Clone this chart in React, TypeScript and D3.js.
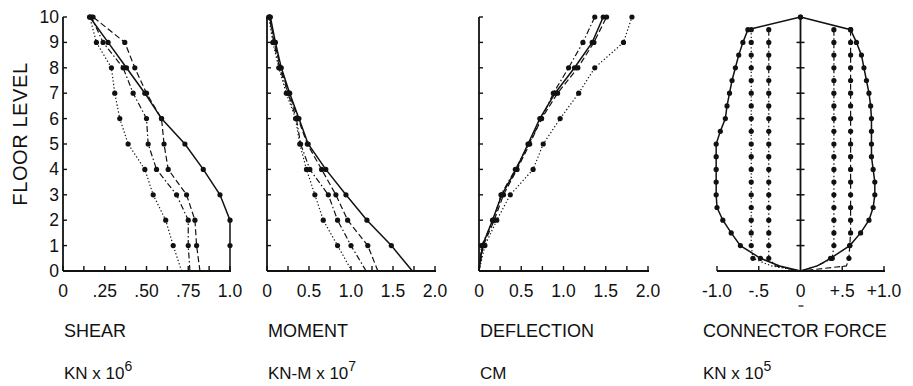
import React from 'react';
import * as d3 from 'd3';

// ---------- data ----------
const FLOORS = [0, 1, 2, 3, 4, 5, 6, 7, 8, 9, 10];
const FLOOR_TICKS = [0, 1, 2, 3, 4, 5, 6, 7, 8, 9, 10];

// SHEAR (KN x 10^6), floors 0..10
const SHEAR_SOLID = [1.0, 1.0, 1.0, 0.94, 0.84, 0.73, 0.59, 0.49, 0.38, 0.27, 0.16];
const SHEAR_DASHED = [0.82, 0.8, 0.79, 0.74, 0.63, 0.605, 0.59, 0.5, 0.43, 0.37, 0.18];
const SHEAR_DASHDOT = [0.76, 0.75, 0.75, 0.68, 0.56, 0.51, 0.5, 0.42, 0.36, 0.24, 0.17];
const SHEAR_DOTTED = [0.71, 0.66, 0.615, 0.54, 0.49, 0.39, 0.34, 0.31, 0.29, 0.2, 0.16];

// MOMENT (KN-M x 10^7)
const MOMENT_SOLID = [1.73, 1.48, 1.19, 0.94, 0.7, 0.49, 0.38, 0.27, 0.17, 0.1, 0.04];
const MOMENT_DASHED = [1.32, 1.2, 0.96, 0.82, 0.65, 0.48, 0.37, 0.26, 0.16, 0.09, 0.03];
const MOMENT_DASHDOT = [1.18, 1.0, 0.84, 0.73, 0.51, 0.4, 0.35, 0.25, 0.15, 0.08, 0.03];
const MOMENT_DOTTED = [1.01, 0.84, 0.67, 0.57, 0.47, 0.39, 0.34, 0.23, 0.14, 0.07, 0.02];

// DEFLECTION (CM)
const DEFL_SOLID = [0, 0.04, 0.16, 0.27, 0.44, 0.58, 0.72, 0.9, 1.13, 1.34, 1.47];
const DEFL_DASHED = [0, 0.05, 0.18, 0.29, 0.45, 0.6, 0.74, 0.93, 1.17, 1.36, 1.51];
const DEFL_DASHDOT = [0, 0.03, 0.17, 0.26, 0.43, 0.59, 0.74, 0.88, 1.06, 1.23, 1.37];
const DEFL_DOTTED = [0, 0.07, 0.21, 0.37, 0.64, 0.76, 0.96, 1.18, 1.37, 1.71, 1.81];

// CONNECTOR FORCE (KN x 10^5)
const CF_OUTER_FLOORS = [10, 9.5, 9, 8.5, 8, 7.5, 7, 6.5, 6, 5.5, 5, 4.5, 4, 3.5, 3, 2.5, 2, 1.5, 1, 0.5, 0.2, 0];
const CF_LEFT_OUTER = [0, -0.63, -0.69, -0.74, -0.78, -0.82, -0.85, -0.88, -0.9, -0.96, -1.01, -1.01, -1.01, -1.01, -1.01, -1.0, -0.93, -0.83, -0.72, -0.48, -0.25, 0];
const CF_RIGHT_OUTER = [0, 0.6, 0.67, 0.73, 0.76, 0.79, 0.82, 0.84, 0.85, 0.85, 0.85, 0.85, 0.87, 0.89, 0.89, 0.87, 0.82, 0.72, 0.59, 0.36, 0.2, 0];
const CF_INNER_FLOORS = [9.5, 9, 8.5, 8, 7.5, 7, 6.5, 6, 5.5, 5, 4.5, 4, 3.5, 3, 2.5, 2, 1.5, 1, 0.5, 0.2, 0];
const CF_LEFT_A = [-0.59, -0.59, -0.59, -0.59, -0.59, -0.59, -0.59, -0.59, -0.59, -0.59, -0.59, -0.59, -0.59, -0.59, -0.59, -0.59, -0.59, -0.59, -0.57, -0.35, 0];
const CF_LEFT_B = [-0.38, -0.38, -0.38, -0.38, -0.38, -0.38, -0.38, -0.38, -0.38, -0.38, -0.38, -0.38, -0.38, -0.38, -0.38, -0.38, -0.38, -0.38, -0.38, -0.3, 0];
const CF_RIGHT_A = [0.4, 0.4, 0.4, 0.4, 0.4, 0.4, 0.4, 0.4, 0.4, 0.4, 0.4, 0.4, 0.4, 0.4, 0.4, 0.4, 0.4, 0.4, 0.38, 0.2, 0];
const CF_RIGHT_B = [0.6, 0.6, 0.6, 0.6, 0.6, 0.6, 0.6, 0.6, 0.6, 0.6, 0.6, 0.6, 0.6, 0.6, 0.6, 0.6, 0.6, 0.59, 0.58, 0.55, 0];

const SHEAR_TICKS = [0, 0.125, 0.25, 0.375, 0.5, 0.625, 0.75, 0.875, 1.0];
const SHEAR_LABELS: [number, string][] = [[0, '0'], [0.25, '.25'], [0.5, '.50'], [0.75, '.75'], [1.0, '1.0']];
const TWO_TICKS = [0, 0.25, 0.5, 0.75, 1.0, 1.25, 1.5, 1.75, 2.0];
const TWO_LABELS: [number, string][] = [[0, '0'], [0.5, '0.5'], [1.0, '1.0'], [1.5, '1.5'], [2.0, '2.0']];
const CF_TICKS = [-1, -0.5, 0.5, 1];
const CF_LABELS: [number, string][] = [[-1, '-1.0'], [-0.5, '-.5'], [0, '0'], [0.5, '+.5'], [1, '+1.0']];

const TITLES = ['SHEAR', 'MOMENT', 'DEFLECTION', 'CONNECTOR FORCE'];
const UNITS: [string, string][] = [['KN x 10', '6'], ['KN-M x 10', '7'], ['CM', ''], ['KN x 10', '5']];

// ---------- styles ----------
const STYLES: Record<string, string | undefined> = {
  solid: undefined,
  dashed: '6,3',
  dashdot: '6,2.5,1.5,2.5',
  dotted: '1.3,2.2',
};
const FONT = "'Liberation Sans', Arial, sans-serif";

const W = 913;
const H = 386;
const yScale = d3.scaleLinear().domain([0, 10]).range([271, 17]);

type Series = { floors: number[]; values: number[]; style: string };

function Curve({ s, x }: { s: Series; x: d3.ScaleLinear<number, number> }) {
  const pts = s.floors.map((f, i) => [f, s.values[i]] as [number, number]);
  const line = d3.line<[number, number]>().x(d => x(d[1])).y(d => yScale(d[0]));
  const marks = pts.filter(p => p[0] > 0 && Math.abs(p[0] * 2 - Math.round(p[0] * 2)) < 1e-6);
  return (
    <g>
      <path d={line(pts) || ''} fill="none" stroke="#111" strokeWidth={s.style === 'solid' ? 1.5 : 1.2}
        strokeDasharray={STYLES[s.style]} />
      {marks.map((p, i) => (
        <circle key={i} cx={x(p[1])} cy={yScale(p[0])} r={2.6} fill="#111" />
      ))}
    </g>
  );
}

function XAxis({ x, ticks, labels, y0 }: { x: d3.ScaleLinear<number, number>; ticks: number[]; labels: [number, string][]; y0: number }) {
  const [d0, d1] = x.domain();
  return (
    <g>
      <line x1={x(d0)} x2={x(d1) + 1} y1={y0} y2={y0} stroke="#111" strokeWidth={1.8} />
      {ticks.map((t, i) => (
        <line key={i} x1={x(t)} x2={x(t)} y1={y0} y2={y0 - 5} stroke="#111" strokeWidth={1.4} />
      ))}
      {labels.map(([v, t], i) => (
        <text key={i} x={x(v)} y={297} textAnchor="middle" fontSize={17.5} fontFamily={FONT} fill="#111">{t}</text>
      ))}
    </g>
  );
}

function YAxis({ x0 }: { x0: number }) {
  return (
    <g>
      <line x1={x0} x2={x0} y1={yScale(0)} y2={yScale(10)} stroke="#111" strokeWidth={1.8} />
      {FLOOR_TICKS.filter(f => f > 0).map(f => (
        <line key={f} x1={x0} x2={x0 + 4} y1={yScale(f)} y2={yScale(f)} stroke="#111" strokeWidth={1.4} />
      ))}
    </g>
  );
}

export default function App() {
  const xShear = d3.scaleLinear().domain([0, 1]).range([63, 230]);
  const xMoment = d3.scaleLinear().domain([0, 2]).range([267, 435]);
  const xDefl = d3.scaleLinear().domain([0, 2]).range([479, 648]);
  const xCF = d3.scaleLinear().domain([-1, 1]).range([717, 884]);

  const mk = (vals: number[], style: string): Series => ({ floors: FLOORS, values: vals, style });

  const shear = [mk(SHEAR_SOLID, 'solid'), mk(SHEAR_DASHED, 'dashed'), mk(SHEAR_DASHDOT, 'dashdot'), mk(SHEAR_DOTTED, 'dotted')];
  const moment = [mk(MOMENT_SOLID, 'solid'), mk(MOMENT_DASHED, 'dashed'), mk(MOMENT_DASHDOT, 'dashdot'), mk(MOMENT_DOTTED, 'dotted')];
  const defl = [mk(DEFL_SOLID, 'solid'), mk(DEFL_DASHED, 'dashed'), mk(DEFL_DASHDOT, 'dashdot'), mk(DEFL_DOTTED, 'dotted')];
  const cf: Series[] = [
    { floors: CF_OUTER_FLOORS, values: CF_LEFT_OUTER, style: 'solid' },
    { floors: CF_OUTER_FLOORS, values: CF_RIGHT_OUTER, style: 'solid' },
    { floors: CF_INNER_FLOORS, values: CF_LEFT_A, style: 'dotted' },
    { floors: CF_INNER_FLOORS, values: CF_LEFT_B, style: 'dashdot' },
    { floors: CF_INNER_FLOORS, values: CF_RIGHT_A, style: 'dashdot' },
    { floors: CF_INNER_FLOORS, values: CF_RIGHT_B, style: 'dashed' },
  ];

  const titleX = [64, 268, 480, 703];
  const y0 = yScale(0);

  return (
    <svg width={W} height={H} style={{ position: 'absolute', left: 0, top: 0, background: '#fff' }}>
      <rect width={W} height={H} fill="#fff" />
      {/* Y label */}
      <text transform={`translate(27,134) rotate(-90)`} textAnchor="middle" fontSize={20} fontFamily={FONT} fill="#111" letterSpacing={0.6}>FLOOR LEVEL</text>
      {FLOOR_TICKS.map(f => (
        <text key={f} x={59} y={yScale(f) + 6} textAnchor="end" fontSize={17.5} fontFamily={FONT} fill="#111">{f}</text>
      ))}

      {/* Shear */}
      <YAxis x0={xShear(0)} />
      <XAxis x={xShear} ticks={SHEAR_TICKS} labels={SHEAR_LABELS} y0={y0} />
      {shear.map((s, i) => <Curve key={i} s={s} x={xShear} />)}

      {/* Moment */}
      <YAxis x0={xMoment(0)} />
      <XAxis x={xMoment} ticks={TWO_TICKS} labels={TWO_LABELS} y0={y0} />
      {moment.map((s, i) => <Curve key={i} s={s} x={xMoment} />)}

      {/* Deflection */}
      <YAxis x0={xDefl(0)} />
      <XAxis x={xDefl} ticks={TWO_TICKS} labels={TWO_LABELS} y0={y0} />
      {defl.map((s, i) => <Curve key={i} s={s} x={xDefl} />)}

      {/* Connector force */}
      <XAxis x={xCF} ticks={CF_TICKS} labels={CF_LABELS} y0={y0} />
      <line x1={xCF(0)} x2={xCF(0)} y1={yScale(0)} y2={yScale(10)} stroke="#111" strokeWidth={1.8} />
      {FLOOR_TICKS.filter(f => f > 0 && f < 10).map(f => (
        <line key={f} x1={xCF(0) - 4} x2={xCF(0) + 4} y1={yScale(f)} y2={yScale(f)} stroke="#111" strokeWidth={1.5} />
      ))}
      {cf.map((s, i) => <Curve key={i} s={s} x={xCF} />)}
      <line x1={xCF(0) - 2} x2={xCF(0) + 3} y1={306} y2={306} stroke="#111" strokeWidth={1.2} />

      {/* Titles */}
      {TITLES.map((t, i) => (
        <text key={t} x={titleX[i]} y={337} fontSize={18} fontFamily={FONT} fill="#111">{t}</text>
      ))}
      {UNITS.map(([u, sup], i) => (
        <text key={i} x={titleX[i]} y={379} fontSize={17} fontFamily={FONT} fill="#111">
          {u}
          {sup && <tspan dy={-8} fontSize={14}>{sup}</tspan>}
        </text>
      ))}
    </svg>
  );
}
